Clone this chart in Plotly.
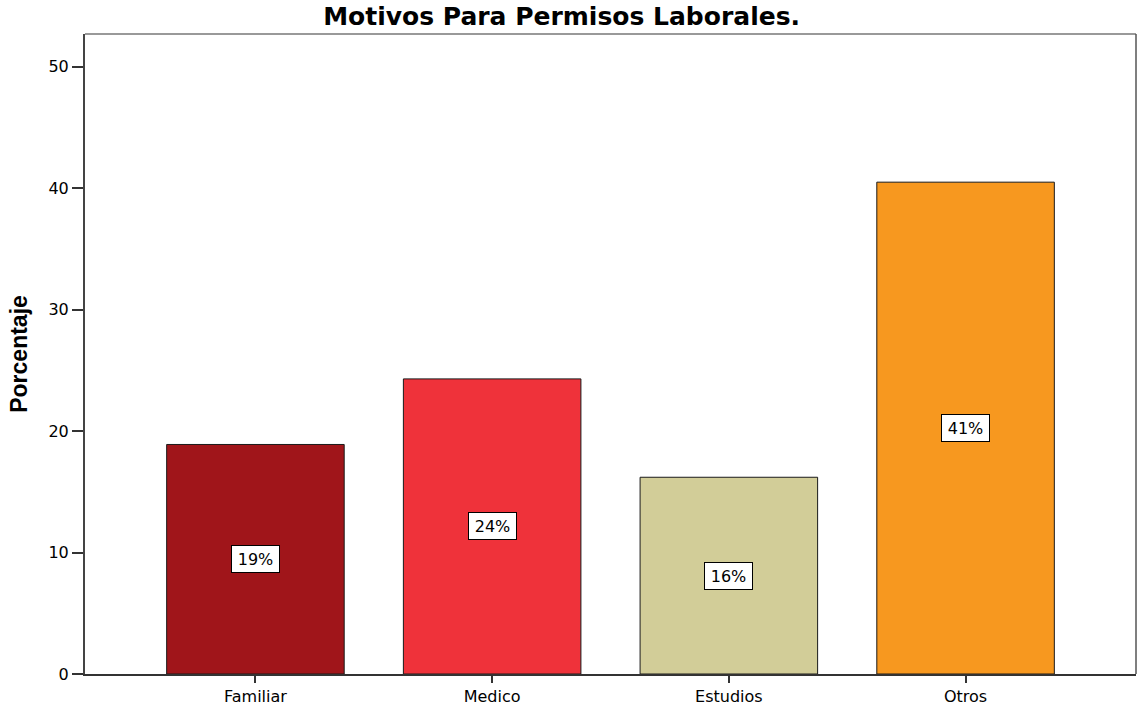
import plotly.graph_objects as go

categories = ["Familiar", "Medico", "Estudios", "Otros"]
values = [18.9, 24.3, 16.2, 40.5]
labels = ["19%", "24%", "16%", "41%"]
colors = ["#A0151A", "#EF323A", "#D2CD98", "#F7981F"]
yticks = [0, 10, 20, 30, 40, 50]

WIDE = "DejaVu Sans, Verdana, sans-serif"

fig = go.Figure()
fig.add_trace(go.Bar(
    x=categories, y=values, width=0.75,
    marker=dict(color=colors, line=dict(color="#1a1a1a", width=1)),
    showlegend=False, hoverinfo="skip",
))

for c, v, t in zip(categories, values, labels):
    fig.add_annotation(
        x=c, y=v / 2, text=t, showarrow=False,
        font=dict(family=WIDE, size=16, color="#000"),
        width=43, height=22,
        bgcolor="white", bordercolor="#000", borderwidth=1, borderpad=2,
    )

fig.update_layout(
    width=1138, height=707,
    margin=dict(l=85, r=2, t=34, b=33),
    paper_bgcolor="white", plot_bgcolor="white",
    title=dict(text="<b>Motivos Para Permisos Laborales.</b>", x=0.4935, xanchor="center",
               y=0.977, yanchor="middle",
               font=dict(family=WIDE, size=25, color="#000")),
    font=dict(family=WIDE, size=16, color="#000"),
    bargap=0.25,
)
fig.update_xaxes(
    range=[-0.72, 3.72], showgrid=False, zeroline=False,
    showline=True, linecolor="#333", linewidth=2,
    ticks="outside", ticklen=7, tickwidth=2, tickcolor="#333",
    tickfont=dict(family=WIDE, size=16),
)
fig.update_yaxes(
    range=[0, 52.7], showgrid=False, zeroline=False,
    showline=True, linecolor="#444", linewidth=2,
    ticks="outside", ticklen=11, tickwidth=2, tickcolor="#333",
    tickvals=yticks, tickfont=dict(family=WIDE, size=16),
    title=dict(text="<b>Porcentaje</b>",
               font=dict(family="Liberation Sans, Arial", size=23), standoff=14),
)
# frame top and right
fig.add_shape(type="line", xref="paper", yref="paper", x0=0, x1=1, y0=1, y1=1,
              line=dict(color="#999", width=2))
fig.add_shape(type="line", xref="paper", yref="paper", x0=1, x1=1, y0=0, y1=1,
              line=dict(color="#555", width=1.5))

fig.write_html("out.html", config={"displayModeBar": False},
               post_script="document.body.style.margin='0';document.body.style.overflow='hidden';")
